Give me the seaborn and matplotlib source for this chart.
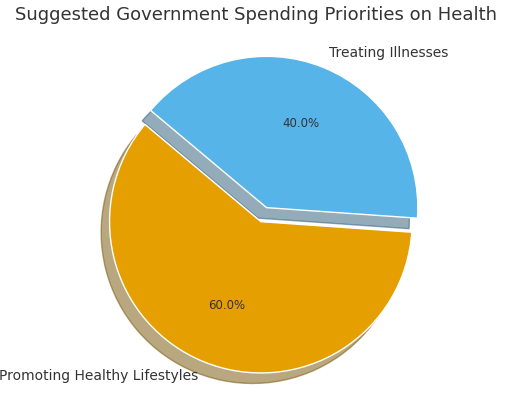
import seaborn as sns
import matplotlib.pyplot as plt

labels = ['Promoting Healthy Lifestyles', 'Treating Illnesses']
sizes = [60, 40]
colors = ['#E69F00', '#56B4E9']
explode = (0, 0.1)

sns.set_theme(style='white')
plt.rcParams['font.family'] = ['DejaVu Sans']
fig = plt.figure(figsize=(5.12, 4.05), dpi=100)
ax = fig.add_axes([0.05, 0.04, 0.93, 0.86])
ax.pie(sizes, labels=labels, colors=colors, explode=explode, autopct='%1.1f%%',
       shadow={'ox': -0.04, 'oy': -0.05, 'shade': 0.5}, startangle=140,
       textprops={'color': '#333333', 'fontsize': 10})
for t in ax.texts:
    if '%' in t.get_text():
        t.set_fontsize(8.5)
ax.axis('equal')
fig.suptitle('Suggested Government Spending Priorities on Health', fontsize=13,
             color='#333333', y=0.985)
plt.savefig('out.png')
